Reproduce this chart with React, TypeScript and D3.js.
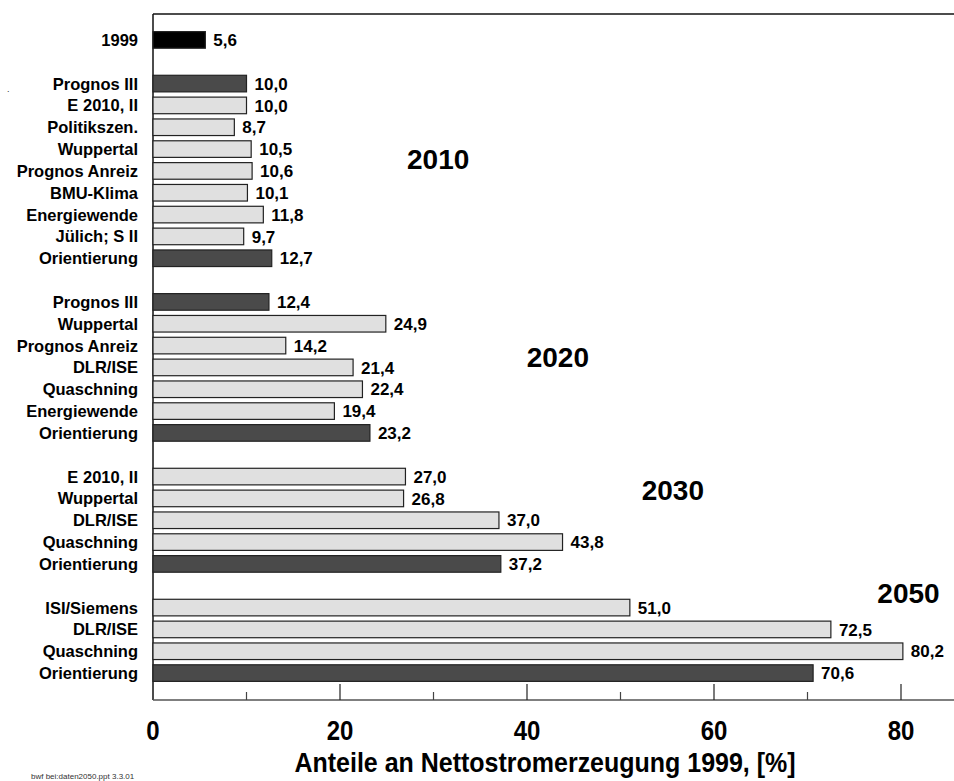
import * as d3 from "d3";

// Values (share of net electricity generation, %)
const labels1999 = ["1999"];
const values1999 = [5.6];

const labels2010 = [
  "Prognos III",
  "E 2010, II",
  "Politikszen.",
  "Wuppertal",
  "Prognos Anreiz",
  "BMU-Klima",
  "Energiewende",
  "Jülich; S II",
  "Orientierung",
];
const values2010 = [10.0, 10.0, 8.7, 10.5, 10.6, 10.1, 11.8, 9.7, 12.7];

const labels2020 = [
  "Prognos III",
  "Wuppertal",
  "Prognos Anreiz",
  "DLR/ISE",
  "Quaschning",
  "Energiewende",
  "Orientierung",
];
const values2020 = [12.4, 24.9, 14.2, 21.4, 22.4, 19.4, 23.2];

const labels2030 = ["E 2010, II", "Wuppertal", "DLR/ISE", "Quaschning", "Orientierung"];
const values2030 = [27.0, 26.8, 37.0, 43.8, 37.2];

const labels2050 = ["ISI/Siemens", "DLR/ISE", "Quaschning", "Orientierung"];
const values2050 = [51.0, 72.5, 80.2, 70.6];

const darkNames = ["Prognos III", "Orientierung"];
const xTicks = [0, 20, 40, 60, 80];
const xMinorTicks = [10, 30, 50, 70];

const groups = [
  { year: "1999", labels: labels1999, values: values1999 },
  { year: "2010", labels: labels2010, values: values2010 },
  { year: "2020", labels: labels2020, values: values2020 },
  { year: "2030", labels: labels2030, values: values2030 },
  { year: "2050", labels: labels2050, values: values2050 },
];

// Year annotations: x in data units, row = slot index (fractional)
const yearNotes = [
  { text: "2010", x: 30.5, row: 5.45 },
  { text: "2020", x: 43.3, row: 14.5 },
  { text: "2030", x: 55.6, row: 20.6 },
  { text: "2050", x: 80.8, row: 25.35 },
];

type Row = { key: string; label: string; value: number; year: string };

const rows: (Row | null)[] = [];
groups.forEach((g, gi) => {
  if (gi > 0) rows.push(null);
  g.labels.forEach((l, i) =>
    rows.push({ key: `${g.year}-${i}`, label: l, value: g.values[i], year: g.year }),
  );
});
const slotKeys = rows.map((r, i) => (r ? r.key : `gap-${i}`));

const W = 954;
const H = 781;
const FONT = "'Liberation Sans', Arial, Helvetica, sans-serif";

export default function App() {
  const x = d3.scaleLinear().domain([0, 80]).range([153, 901]);
  const y = d3.scaleBand<string>().domain(slotKeys).range([29, 684]).paddingInner(0.24).paddingOuter(0.12);
  const step = y.step();
  const rowCenter = (r: number) => y(slotKeys[0])! + y.bandwidth() / 2 + r * step;

  const axisY = 700;
  const topY = 14;

  return (
    <svg
      width={W}
      height={H}
      style={{ position: "absolute", left: 0, top: 0, background: "#fff" }}
      fontFamily={FONT}
    >
      {/* Frame: top line and left axis */}
      <line x1={x(0)} x2={W} y1={topY} y2={topY} stroke="#111" strokeWidth={1.5} />
      <line x1={x(0)} x2={x(0)} y1={topY} y2={axisY} stroke="#111" strokeWidth={1.5} />

      {/* Bars */}
      {rows.map((r) => {
        if (!r) return null;
        const fill = r.year === "1999" ? "#000" : darkNames.includes(r.label) ? "#4a4a4a" : "#e0e0e0";
        const by = y(r.key)!;
        return (
          <g key={r.key}>
            <rect
              x={x(0)}
              y={by}
              width={x(r.value) - x(0)}
              height={y.bandwidth()}
              fill={fill}
              stroke="#222"
              strokeWidth={1.2}
            />
            <text
              x={x(0) - 15}
              y={by + y.bandwidth() / 2}
              dy="0.36em"
              textAnchor="end"
              fontSize={16.5}
              fontWeight="bold"
              fill="#000"
            >
              {r.label}
            </text>
            <text
              x={x(r.value) + 8}
              y={by + y.bandwidth() / 2}
              dy="0.36em"
              fontSize={17}
              fontWeight="bold"
              fill="#000"
            >
              {r.value.toFixed(1).replace(".", ",")}
            </text>
          </g>
        );
      })}

      {/* Year annotations */}
      {yearNotes.map((n) => (
        <text
          key={n.text}
          x={x(n.x)}
          y={rowCenter(n.row)}
          dy="0.36em"
          textAnchor="middle"
          fontSize={28}
          fontWeight="bold"
        >
          {n.text}
        </text>
      ))}

      {/* Bottom axis */}
      <line x1={x(0)} x2={W} y1={axisY} y2={axisY} stroke="#555" strokeWidth={1.5} />
      {xTicks
        .filter((t) => t > 0)
        .map((t) => (
          <line key={t} x1={x(t)} x2={x(t)} y1={axisY - 16} y2={axisY} stroke="#222" strokeWidth={1.2} />
        ))}
      {xMinorTicks.map((t) => (
        <line key={t} x1={x(t)} x2={x(t)} y1={axisY - 8} y2={axisY} stroke="#444" strokeWidth={1.2} />
      ))}
      {xTicks.map((t) => (
        <text
          key={t}
          transform={`translate(${x(t)},740) scale(1,1.15)`}
          textAnchor="middle"
          fontSize={24}
          fontWeight="bold"
        >
          {t}
        </text>
      ))}
      <text
        transform="translate(545,772) scale(1,1.08)"
        textAnchor="middle"
        fontSize={25}
        fontWeight="bold"
      >
        Anteile an Nettostromerzeugung 1999, [%]
      </text>

      {/* Footer note (cut off at the bottom in the original) */}
      <text x={31} y={779} fontSize={8} fill="#333">
        bwf bei:daten2050.ppt 3.3.01
      </text>
      <text x={7} y={92} fontSize={9} fill="#333">
        .
      </text>
    </svg>
  );
}
